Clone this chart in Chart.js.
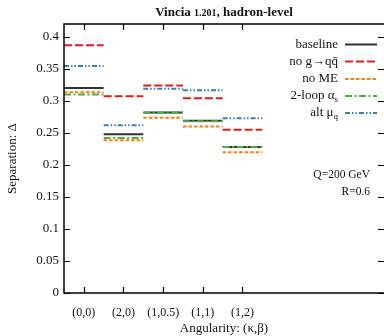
<!DOCTYPE html>
<html><head><meta charset="utf-8">
<script src="https://cdn.jsdelivr.net/npm/chart.js@4"></script>
<style>html,body{margin:0;padding:0;background:#fff}#wrap{width:384px;height:336px;position:relative}</style>
</head><body><div id="wrap"><canvas id="c"></canvas></div>
<script>
const categories = ['(0,0)', '(2,0)', '(1,0.5)', '(1,1)', '(1,2)'];
const baseline = [0.320, 0.248, 0.282, 0.269, 0.228];
const noGqq    = [0.387, 0.307, 0.324, 0.304, 0.255];
const noME     = [0.3135, 0.2385, 0.2735, 0.260, 0.2197];
const twoLoop  = [0.310, 0.242, 0.281, 0.268, 0.228];
const altMu    = [0.3545, 0.262, 0.319, 0.3165, 0.273];
const yTicks   = [0, 0.05, 0.1, 0.15, 0.2, 0.25, 0.3, 0.35, 0.4];

const SERIF = '"Liberation Serif", "DejaVu Serif", serif';
const COLORS = { base: '#333333', red: '#e41a1c', orange: '#ff7f00', green: '#4daf4a', blue: '#377eb8' };
const DASH = { base: [], red: [8, 3], orange: [3.5, 2], green: [7, 2.5, 2, 2.5], blue: [5, 2, 1.5, 2, 1.5, 2] };

function segs(vals) {
  const pts = [];
  vals.forEach((v, i) => {
    pts.push({ x: i - 0.5, y: v }, { x: i + 0.5, y: v });
    if (i < vals.length - 1) pts.push({ x: i + 0.5, y: null });
  });
  return pts;
}

const series = [
  { key: 'base', label: 'baseline', data: baseline, order: 5 },
  { key: 'red', label: 'no g→qq̄', data: noGqq, order: 4 },
  { key: 'orange', label: 'no ME', data: noME, order: 3 },
  { key: 'green', label: '2-loop α', sub: 's', data: twoLoop, order: 2 },
  { key: 'blue', label: 'alt μ', sub: 'q', data: altMu, order: 1 }
];

const overlay = {
  id: 'overlay',
  afterDraw(chart) {
    const ctx = chart.ctx;
    const { left, right, top, bottom } = chart.chartArea;
    const xs = chart.scales.x, ys = chart.scales.y;
    ctx.save();
    // frame (right edge lies just past the canvas)
    ctx.strokeStyle = '#000';
    ctx.lineWidth = 1.5;
    ctx.setLineDash([]);
    ctx.beginPath();
    ctx.moveTo(right + 2, top); ctx.lineTo(left, top); ctx.lineTo(left, bottom); ctx.lineTo(right + 2, bottom);
    ctx.stroke();
    ctx.lineWidth = 1.2;
    ctx.beginPath();
    yTicks.forEach(v => {
      const y = Math.round(ys.getPixelForValue(v)) + 0.5;
      ctx.moveTo(left, y); ctx.lineTo(left + 6, y);
      ctx.moveTo(right, y); ctx.lineTo(right - 6, y);
    });
    categories.forEach((c, i) => {
      const x = Math.round(xs.getPixelForValue(i)) + 0.5;
      ctx.moveTo(x, bottom); ctx.lineTo(x, bottom - 6);
      ctx.moveTo(x, top); ctx.lineTo(x, top + 6);
    });
    ctx.stroke();

    // title
    ctx.fillStyle = '#111';
    ctx.textBaseline = 'alphabetic';
    const f1 = 'bold 13px ' + SERIF, f2 = 'bold 10px ' + SERIF;
    const parts = [['Vincia ', f1], ['1.201', f2], [', hadron-level', f1]];
    let tw = 0;
    parts.forEach(p => { ctx.font = p[1]; tw += ctx.measureText(p[0]).width; });
    let tx = (left + right) / 2 - tw / 2;
    ctx.textAlign = 'left';
    parts.forEach(p => { ctx.font = p[1]; ctx.fillText(p[0], tx, 16); tx += ctx.measureText(p[0]).width; });

    // legend
    const rowY = [44.5, 61.5, 79, 96, 113];
    const textRight = 338, sx0 = 345, sx1 = 377;
    series.forEach((s, i) => {
      const y = rowY[i];
      ctx.textBaseline = 'middle';
      let subW = 0;
      if (s.sub) {
        ctx.font = '9px ' + SERIF;
        subW = ctx.measureText(s.sub).width;
      }
      ctx.font = '13px ' + SERIF;
      ctx.textAlign = 'right';
      ctx.fillStyle = '#111';
      ctx.fillText(s.label, textRight - subW, y);
      if (s.sub) {
        ctx.font = '9px ' + SERIF;
        ctx.textAlign = 'left';
        ctx.fillText(s.sub, textRight - subW, y + 4);
      }
      ctx.strokeStyle = COLORS[s.key];
      ctx.lineWidth = 2;
      ctx.setLineDash(DASH[s.key]);
      ctx.beginPath();
      ctx.moveTo(sx0, y); ctx.lineTo(sx1, y);
      ctx.stroke();
    });
    ctx.setLineDash([]);

    // annotation
    ctx.font = '11.5px ' + SERIF;
    ctx.textAlign = 'right';
    ctx.textBaseline = 'middle';
    ctx.fillStyle = '#111';
    ctx.fillText('Q=200 GeV', 370, 175);
    ctx.fillText('R=0.6', 370, 191.5);
    ctx.restore();
  }
};

new Chart(document.getElementById('c'), {
  type: 'line',
  data: {
    datasets: series.map(s => ({
      label: s.label,
      data: segs(s.data),
      borderColor: COLORS[s.key],
      borderDash: DASH[s.key],
      borderWidth: 2,
      pointRadius: 0,
      spanGaps: false,
      fill: false,
      tension: 0,
      order: s.order
    }))
  },
  options: {
    responsive: true,
    maintainAspectRatio: false,
    animation: false,
    events: [],
    layout: { padding: { top: 24, left: 0, right: 0, bottom: 0 } },
    plugins: { legend: { display: false }, tooltip: { enabled: false }, title: { display: false } },
    scales: {
      x: {
        type: 'linear',
        min: -0.5,
        max: 7.57,
        grid: { display: false, drawTicks: false },
        border: { display: false },
        afterBuildTicks: sc => { sc.ticks = categories.map((c, i) => ({ value: i })); },
        afterFit: sc => { sc.height = 43; },
        ticks: {
          autoSkip: false,
          maxRotation: 0,
          padding: 13,
          color: '#111',
          font: { family: SERIF, size: 12 },
          callback: v => categories[v]
        },
        title: {
          display: true,
          text: 'Angularity: (κ,β)',
          color: '#111',
          font: { family: SERIF, size: 13 },
          padding: { top: 0, bottom: 0 }
        }
      },
      y: {
        min: 0,
        max: 0.42,
        grid: { display: false, drawTicks: false },
        border: { display: false },
        afterBuildTicks: sc => { sc.ticks = yTicks.map(v => ({ value: v })); },
        afterFit: sc => { sc.width = 64; },
        ticks: {
          padding: 5,
          color: '#111',
          font: { family: SERIF, size: 13 },
          callback: v => String(Number(v.toFixed(2)))
        },
        title: {
          display: true,
          text: 'Separation: Δ',
          color: '#111',
          font: { family: SERIF, size: 13 },
          padding: { top: 5, bottom: 0 }
        }
      }
    }
  },
  plugins: [overlay]
});
</script>
</body></html>
